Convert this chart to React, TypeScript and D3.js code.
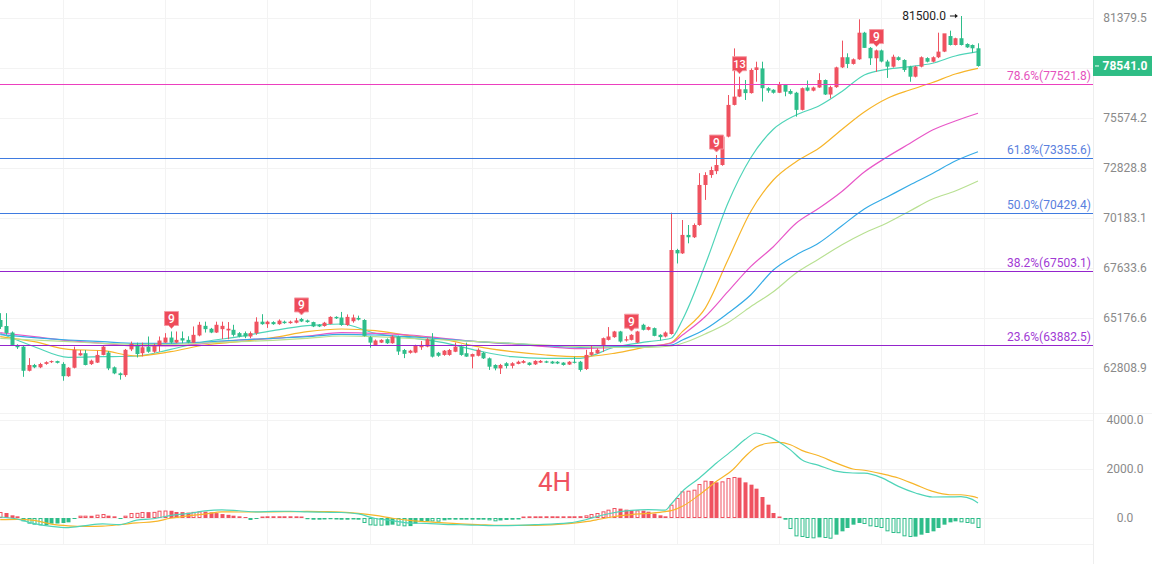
import { useEffect, useRef } from 'react';
import * as d3 from 'd3';

const WIDTH = 1152;
const HEIGHT = 564;
const PLOT_RIGHT = 1093;

const UP = '#ef5260';
const DOWN = '#2ebd8a';

// 4h candles: open, high, low, close
const candles: [number, number, number, number][] = [
  [65080, 65410, 64650, 64750], [64790, 65410, 64370, 64460], [64480, 64530, 63850, 63890],
  [63890, 63920, 63700, 63780], [63810, 63850, 62400, 62680], [62680, 63270, 62650, 62950],
  [62950, 63000, 62800, 62840], [62840, 63050, 62800, 62995], [63000, 63120, 62960, 63080],
  [63080, 63160, 63040, 63130], [63130, 63150, 63020, 63050], [63000, 63080, 62220, 62430],
  [62430, 62850, 62400, 62820], [62820, 63810, 62790, 63660], [63400, 63650, 63380, 63500],
  [63500, 63650, 62930, 62950], [62990, 63200, 62950, 63150], [63060, 63620, 63040, 63420],
  [63420, 63850, 63400, 63810], [63530, 63600, 62710, 62790], [62840, 62880, 62520, 62560],
  [62560, 62600, 62270, 62480], [62480, 63700, 62400, 63660], [63680, 64050, 63600, 63940],
  [63890, 64000, 63300, 63460], [63500, 64000, 63350, 63780], [63810, 64290, 63520, 63570],
  [63570, 63950, 63520, 63890], [63890, 64290, 63570, 64100], [64000, 64450, 63980, 64240],
  [64240, 64530, 63950, 64000], [64000, 64530, 63970, 64130], [64210, 64530, 63970, 64100],
  [64130, 64300, 63970, 64000], [64000, 64770, 63980, 64370], [64340, 64990, 64300, 64850],
  [64800, 65000, 64480, 64640], [64660, 64700, 64450, 64480], [64480, 65000, 64460, 64850],
  [64640, 65000, 64170, 64800], [64580, 64980, 64160, 64660], [64610, 64850, 64290, 64370],
  [64450, 64500, 64250, 64290], [64450, 64530, 64210, 64290], [64290, 64530, 64210, 64450],
  [64450, 65210, 64370, 65000], [65000, 65360, 64850, 64880], [64880, 65050, 64700, 65000],
  [64980, 65020, 64850, 64880], [64880, 65110, 64850, 65050], [65000, 65050, 64900, 64930],
  [64930, 65050, 64900, 65000], [64950, 65180, 64920, 65060], [65130, 65180, 64980, 65010],
  [65060, 65100, 64950, 64980], [64980, 65000, 64740, 64770], [64850, 64880, 64740, 64770],
  [64790, 64990, 64760, 64950], [64890, 65260, 64870, 65230], [65230, 65260, 65130, 65160],
  [65200, 65470, 64800, 64840], [64840, 65350, 64800, 65230], [65020, 65340, 64950, 65200],
  [65180, 65290, 65060, 65100], [65080, 65120, 64290, 64320], [64260, 64310, 63760, 64000],
  [63890, 64150, 63850, 64100], [64000, 64160, 63980, 64130], [64160, 64200, 63940, 63970],
  [63970, 64350, 63950, 64290], [64290, 64330, 63420, 63580], [63650, 63700, 63270, 63470],
  [63520, 63660, 63480, 63620], [63530, 63900, 63500, 63850], [63780, 64080, 63660, 63890],
  [63810, 64210, 63780, 64160], [64160, 64450, 63300, 63340], [63520, 63560, 63330, 63380],
  [63420, 63650, 63380, 63620], [63420, 63700, 63380, 63650], [63570, 64000, 63550, 63810],
  [63810, 63900, 63380, 63420], [63500, 64000, 63330, 63340], [63340, 63480, 62790, 63460],
  [63380, 63730, 63350, 63660], [63520, 63560, 63230, 63260], [63260, 63300, 62720, 62870],
  [62950, 62980, 62700, 62790], [62790, 63000, 62530, 62950], [63030, 63080, 62790, 62900],
  [62910, 63080, 62790, 63030], [63000, 63150, 62980, 63100], [63050, 63180, 63020, 63130],
  [63060, 63080, 62920, 62950], [62980, 63170, 62950, 63140], [63060, 63180, 63040, 63140],
  [63120, 63150, 63040, 63060], [63110, 63140, 63000, 63020], [63100, 63130, 62990, 63020],
  [63060, 63080, 62920, 62950], [62970, 63130, 62950, 63100], [63100, 63340, 63020, 63050],
  [63100, 63140, 62640, 62720], [62760, 63660, 62720, 63420], [63420, 63850, 63380, 63550],
  [63500, 63730, 63470, 63660], [63890, 64240, 63560, 64210], [64130, 64740, 64100, 64290],
  [64260, 64560, 64230, 64530], [64530, 64560, 64000, 64050], [64100, 64300, 64050, 64160],
  [64130, 64400, 64100, 64370], [64000, 64560, 63980, 64530], [64850, 64900, 64580, 64610],
  [64610, 64770, 64580, 64740], [64690, 64720, 64300, 64320], [64370, 64400, 64100, 64260],
  [64290, 64530, 64250, 64480], [64410, 70460, 64380, 68540], [68540, 68600, 67860, 68370],
  [68370, 70080, 68340, 69310], [69310, 69820, 68880, 69190], [69190, 69900, 69150, 69820],
  [69820, 72550, 69780, 71920], [71920, 72600, 71130, 72450], [72450, 72900, 72300, 72720],
  [72660, 73530, 72500, 72990], [72990, 74600, 72950, 74540], [74540, 76870, 74500, 76310],
  [76310, 79570, 76280, 76780], [76780, 77920, 76750, 77200], [77200, 77730, 76590, 76980],
  [76980, 78400, 76950, 78310], [78310, 78790, 77630, 78460], [78400, 78790, 76500, 77260],
  [77260, 77320, 77000, 77120], [77170, 77200, 76950, 77000], [77000, 77620, 76980, 77450],
  [77450, 77500, 76800, 77060], [77100, 77200, 76900, 76940], [77000, 77050, 75650, 76030],
  [76030, 77300, 76000, 77260], [77300, 77700, 77080, 77120], [77120, 77350, 77080, 77300],
  [77300, 78120, 77280, 77730], [77730, 77760, 76870, 76900], [76900, 77400, 76680, 77320],
  [77320, 78500, 77280, 78460], [78460, 80030, 78420, 79050], [79050, 79280, 78420, 78660],
  [78660, 78980, 78620, 78930], [78930, 81300, 78900, 80500], [80500, 80550, 79600, 79600],
  [79600, 79650, 78600, 78990], [78990, 79500, 78200, 79450], [79450, 79500, 78750, 78800],
  [78800, 78900, 77850, 78500], [78500, 79200, 78450, 79080], [79050, 79100, 78850, 78890],
  [78890, 78930, 78200, 78310], [78500, 78550, 77630, 77920], [77920, 78550, 77880, 78500],
  [78500, 79100, 78460, 79050], [79000, 79050, 78750, 78790], [78790, 79100, 78750, 79050],
  [79050, 80500, 79000, 79380], [79380, 80400, 79350, 80460], [80300, 80620, 79740, 79770],
  [79770, 80200, 79740, 80170], [80170, 81500, 79740, 79770], [79830, 79870, 79600, 79630],
  [79770, 79800, 79300, 79575], [79575, 79870, 78500, 78541],
];

// moving averages, read at these candle indices
const maIdx = [0, 6, 12, 18, 24, 30, 36, 42, 48, 54, 60, 66, 72, 78, 84, 90, 96, 102, 108, 114,
  118, 120, 124, 128, 132, 136, 140, 144, 148, 152, 156, 160, 164, 168, 172];
const maFast = [64443, 63807, 63308, 63336, 63369, 63684, 64044, 64281, 64567, 64806, 64888, 64443,
  64233, 63996, 63618, 63336, 63262, 63262, 63779, 64044, 64205, 65080, 67784, 70951, 73370, 74945,
  75743, 76249, 77060, 78019, 78348, 78500, 78697, 79123, 79376];
const maMid = [64281, 64044, 63684, 63618, 63369, 63571, 63887, 64044, 64233, 64520, 64648, 64567,
  64328, 64157, 63807, 63571, 63416, 63336, 63496, 63807, 63996, 64520, 65646, 68035, 70511, 72186,
  73169, 73899, 74923, 75911, 76673, 77157, 77587, 78076, 78406];
const maSlow = [64471, 64281, 64091, 63968, 63840, 63840, 63968, 64124, 64205, 64314, 64471, 64443,
  64362, 64205, 64044, 63935, 63807, 63713, 63779, 63840, 63968, 64362, 65239, 66458, 67699, 68708,
  69908, 70689, 71563, 72615, 73424, 74162, 74906, 75406, 75839];
const maLong = [64376, 64233, 64124, 64044, 63968, 63968, 64029, 64124, 64205, 64281, 64395, 64362,
  64281, 64171, 64044, 63968, 63854, 63779, 63807, 63840, 63887, 64124, 64634, 65403, 66296, 67533,
  68288, 68896, 69769, 70653, 71283, 71918, 72534, 73208, 73713];
const maLonger = [64205, 64124, 64044, 63968, 63920, 63920, 63982, 64044, 64110, 64205, 64314, 64281,
  64205, 64124, 64044, 63968, 63887, 63807, 63779, 63779, 63840, 63968, 64409, 64950, 65724, 66458,
  67384, 68086, 68795, 69408, 69924, 70548, 71177, 71601, 72132];

// MACD histogram, one per candle
const macdHist = [
  245, 204, 109, 68, -136, -231, -272, -299, -290, -231, -225, -204, -177, -41, 95, 95, 90, 136, 163, 95,
  68, -41, 95, 204, 210, 245, 240, 250, 299, 305, 295, 245, 240, 220, 250, 270, 260, 230, 200, 160,
  130, 95, 68, 40, -80, -40, 60, 70, 70, 70, 70, 70, 68, 60, -50, -70, -70, -60, -50, -60,
  -70, -70, -60, -70, -204, -299, -313, -313, -300, -272, -313, -340, -330, -231, -136, -130, -140, -150, -95, -68,
  -68, -68, -68, -68, -68, -68, -95, -136, -100, -80, -70, -60, 60, 68, 68, 68, 70, 70, 68, 68,
  70, 70, 75, 109, 163, 204, 272, 340, 408, 381, 340, 313, 313, 299, 258, 177, 109, 68, 544, 816,
  1088, 1115, 1156, 1387, 1523, 1510, 1455, 1496, 1632, 1673, 1646, 1455, 1360, 1197, 857, 544, 204, 60, -70, -450,
  -750, -775, -816, -830, -790, -816, -845, -680, -544, -408, -272, -204, -245, -340, -367, -408, -544, -612, -620, -748,
  -775, -760, -680, -612, -544, -408, -272, -177, -136, -177, -204, -231, -408,
];

const macdIdx = [0, 3, 6, 9, 12, 15, 18, 21, 24, 27, 30, 33, 36, 39, 42, 45, 48, 51, 54, 57, 60, 63,
  66, 69, 72, 75, 78, 81, 84, 88, 94, 100, 103, 105, 107, 111, 114, 117, 118, 120, 123, 126, 129, 131,
  133, 135, 137, 139, 141, 144, 147, 150, 152, 155, 158, 161, 164, 167, 169, 171, 172];
const dif = [40, -40, -233, -340, -390, -310, -240, -270, -90, -30, 110, 175, 290, 335, 295, 250, 270,
  275, 250, 235, 225, 165, -20, -110, -210, -220, -260, -275, -295, -315, -273, -200, -70, 60, 175, 310,
  339, 320, 560, 1088, 1632, 2245, 2800, 3200, 3469, 3340, 3100, 2780, 2380, 2150, 1910, 1837, 1830, 1650,
  1290, 1020, 857, 860, 870, 760, 612];
const dea = [-70, -60, -100, -250, -320, -345, -330, -273, -200, -150, -10, 90, 160, 250, 245, 245, 250,
  260, 270, 260, 240, 190, 110, -10, -100, -150, -200, -240, -265, -300, -300, -230, -150, -70, 20, 140,
  190, 260, 300, 476, 952, 1496, 2000, 2500, 2900, 3050, 3088, 2990, 2760, 2540, 2250, 2000, 1950, 1810,
  1632, 1360, 1088, 950, 950, 880, 816];

const priceTicks = [81379.5, 78423.2, 75574.2, 72828.8, 70183.1, 67633.6, 65176.6, 62808.9];
const macdTicks = [4000, 2000, 0];
const gridIdx = [11, 29, 47, 65, 83, 101, 119, 137, 155, 173];

const fibRatios = ['78.6%', '61.8%', '50.0%', '38.2%', '23.6%'];
const fibPrices = [77521.8, 73355.6, 70429.4, 67503.1, 63882.5];
const FIB_LINE = ['#ec3fbf', '#3f7be0', '#3f7be0', '#9424cc', '#9424cc'];
const FIB_TEXT = ['#e552bd', '#5a80de', '#5a80de', '#a13ad4', '#a13ad4'];

const tdIdx = [30, 53, 111, 126, 130, 154];
const tdText = ['9', '9', '9', '9', '13', '9'];

const MA_COLORS = ['#4fd4b8', '#f7b52a', '#e858c8', '#35abe6', '#b8e092'];

export default function App() {
  const svgRef = useRef<SVGSVGElement>(null);

  useEffect(() => {
    if (!svgRef.current) return;
    const svg = d3.select(svgRef.current);
    svg.selectAll('*').remove();

    const x = d3.scaleLinear().domain([0, candles.length - 1]).range([0.2, 978]);
    const y = d3.scaleLog().domain([62808.9, 81379.5]).range([368, 18]);
    const ym = d3.scaleLinear().domain([0, 4000]).range([518, 420]);
    const crisp = (v: number) => Math.round(v) + 0.5;

    svg
      .append('defs')
      .append('clipPath')
      .attr('id', 'plot-clip')
      .append('rect')
      .attr('x', 0)
      .attr('y', 0)
      .attr('width', PLOT_RIGHT)
      .attr('height', HEIGHT);

    // Grid
    const grid = svg.append('g').attr('stroke', '#f3f3f3').attr('stroke-width', 1);
    gridIdx.forEach(i => {
      grid.append('line').attr('x1', crisp(x(i))).attr('x2', crisp(x(i))).attr('y1', 0).attr('y2', 544);
    });
    priceTicks.forEach(p => {
      grid.append('line').attr('x1', 0).attr('x2', PLOT_RIGHT).attr('y1', crisp(y(p))).attr('y2', crisp(y(p)));
    });
    macdTicks.forEach(v => {
      grid.append('line').attr('x1', 0).attr('x2', PLOT_RIGHT).attr('y1', crisp(ym(v))).attr('y2', crisp(ym(v)));
    });
    grid.append('line').attr('x1', 0).attr('x2', WIDTH).attr('y1', 413.5).attr('y2', 413.5);
    grid.append('line').attr('x1', 0).attr('x2', PLOT_RIGHT).attr('y1', 544.5).attr('y2', 544.5);
    svg
      .append('line')
      .attr('x1', PLOT_RIGHT + 0.5)
      .attr('x2', PLOT_RIGHT + 0.5)
      .attr('y1', 0)
      .attr('y2', HEIGHT)
      .attr('stroke', '#eeeeee');

    const plot = svg.append('g').attr('clip-path', 'url(#plot-clip)');

    // Moving averages
    const maLine = d3
      .line<number>()
      .x((_d, k) => x(maIdx[k]))
      .y(d => y(d))
      .curve(d3.curveMonotoneX);
    [maFast, maMid, maSlow, maLong, maLonger].forEach((series, k) => {
      plot
        .append('path')
        .attr('d', maLine(series))
        .attr('fill', 'none')
        .attr('stroke', MA_COLORS[k])
        .attr('stroke-width', 1.2);
    });

    // Candles
    candles.forEach(([o, h, l, c], i) => {
      const col = c >= o ? UP : DOWN;
      const cx = Math.round(x(i)) + 0.5;
      plot.append('line').attr('x1', cx).attr('x2', cx).attr('y1', y(h)).attr('y2', y(l)).attr('stroke', col);
      const top = y(Math.max(o, c));
      const bot = y(Math.min(o, c));
      plot
        .append('rect')
        .attr('x', cx - 2)
        .attr('y', top)
        .attr('width', 4)
        .attr('height', Math.max(1, bot - top))
        .attr('fill', col);
    });

    // Fibonacci levels
    fibPrices.forEach((p, k) => {
      const yy = crisp(y(p));
      plot.append('line').attr('x1', 0).attr('x2', PLOT_RIGHT).attr('y1', yy).attr('y2', yy).attr('stroke', FIB_LINE[k]);
      svg
        .append('text')
        .attr('x', 1091)
        .attr('y', yy - 5)
        .attr('text-anchor', 'end')
        .attr('font-size', '12px')
        .attr('fill', FIB_TEXT[k])
        .text(`${fibRatios[k]}(${p.toFixed(1)})`);
    });

    // TD sequential labels
    tdIdx.forEach((i, k) => {
      const tip = y(candles[i][1]) - 3;
      const lb = plot.append('g').attr('transform', `translate(${Math.round(x(i)) + 0.5},${tip})`);
      lb.append('path')
        .attr('d', 'M-7,-17 h14 v14 h-4 l-3,3 l-3,-3 h-4 z')
        .attr('fill', '#ee4b5a')
        .attr('stroke', '#f59aa3')
        .attr('stroke-width', 1);
      lb.append('text')
        .attr('x', 0)
        .attr('y', -5.5)
        .attr('text-anchor', 'middle')
        .attr('font-size', tdText[k].length > 1 ? '11px' : '12px')
        .attr('font-weight', '500')
        .attr('fill', '#ffffff')
        .text(tdText[k]);
    });

    // Highest price marker
    const hiI = d3.maxIndex(candles, d => d[1]);
    const hx = x(hiI);
    const hy = y(candles[hiI][1]);
    svg
      .append('text')
      .attr('x', hx - 15)
      .attr('y', hy + 3.5)
      .attr('text-anchor', 'end')
      .attr('font-size', '12px')
      .attr('fill', '#1e1e1e')
      .text(candles[hiI][1].toFixed(1));
    svg.append('line').attr('x1', hx - 11).attr('x2', hx - 4).attr('y1', hy).attr('y2', hy).attr('stroke', '#1e1e1e');
    svg
      .append('path')
      .attr('d', `M${hx - 3},${hy} l-3,-2.2 v4.4 z`)
      .attr('fill', '#1e1e1e');

    // Price axis
    priceTicks.forEach(p => {
      svg
        .append('text')
        .attr('x', 1125)
        .attr('y', y(p) + 4)
        .attr('text-anchor', 'middle')
        .attr('font-size', '12px')
        .attr('fill', '#8a8a8a')
        .text(p.toFixed(1));
    });

    const last = candles[candles.length - 1][3];
    const ly = y(last);
    svg
      .append('rect')
      .attr('x', PLOT_RIGHT)
      .attr('y', ly - 10)
      .attr('width', WIDTH - PLOT_RIGHT)
      .attr('height', 20)
      .attr('fill', '#2ebd85');
    svg.append('line').attr('x1', PLOT_RIGHT + 2).attr('x2', PLOT_RIGHT + 6).attr('y1', ly).attr('y2', ly).attr('stroke', '#ffffff');
    svg
      .append('text')
      .attr('x', 1125)
      .attr('y', ly + 4)
      .attr('text-anchor', 'middle')
      .attr('font-size', '12px')
      .attr('font-weight', '700')
      .attr('fill', '#ffffff')
      .text(last.toFixed(1));

    // MACD histogram
    macdHist.forEach((v, i) => {
      const prev = i > 0 ? macdHist[i - 1] : 0;
      const col = v >= 0 ? UP : DOWN;
      const hollow = Math.abs(v) >= Math.abs(prev);
      const cx = Math.round(x(i)) + 0.5;
      const top = ym(Math.max(v, 0));
      const bot = ym(Math.min(v, 0));
      const h = Math.max(1, bot - top);
      if (hollow) {
        plot
          .append('rect')
          .attr('x', cx - 1.5)
          .attr('y', top + 0.5)
          .attr('width', 3)
          .attr('height', Math.max(0.5, h - 1))
          .attr('fill', '#ffffff')
          .attr('stroke', col)
          .attr('stroke-width', 1);
      } else {
        plot.append('rect').attr('x', cx - 2).attr('y', top).attr('width', 4).attr('height', h).attr('fill', col);
      }
    });

    const macdLine = d3
      .line<number>()
      .x((_d, k) => x(macdIdx[k]))
      .y(d => ym(d))
      .curve(d3.curveMonotoneX);
    plot.append('path').attr('d', macdLine(dea)).attr('fill', 'none').attr('stroke', '#f7b52a').attr('stroke-width', 1.2);
    plot.append('path').attr('d', macdLine(dif)).attr('fill', 'none').attr('stroke', '#4fd4b8').attr('stroke-width', 1.2);

    macdTicks.forEach(v => {
      svg
        .append('text')
        .attr('x', 1125)
        .attr('y', ym(v) + 4)
        .attr('text-anchor', 'middle')
        .attr('font-size', '12px')
        .attr('fill', '#8a8a8a')
        .text(v.toFixed(1));
    });

    svg
      .append('text')
      .attr('x', 538)
      .attr('y', 491)
      .attr('font-size', '26px')
      .attr('fill', UP)
      .text('4H');
  }, []);

  return (
    <svg
      ref={svgRef}
      width={WIDTH}
      height={HEIGHT}
      style={{
        position: 'absolute',
        left: 0,
        top: 0,
        background: '#ffffff',
        fontFamily: 'Roboto, "Noto Sans", sans-serif',
      }}
    />
  );
}
